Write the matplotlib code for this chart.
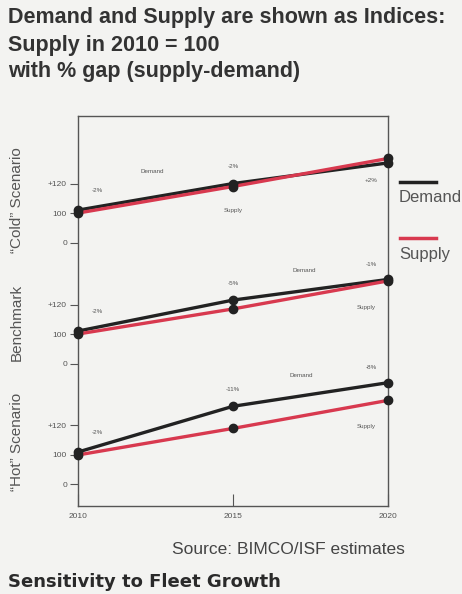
import matplotlib.pyplot as plt
from matplotlib.lines import Line2D

plt.rcParams['font.family'] = ['Liberation Sans', 'DejaVu Sans']

years = [2010, 2015, 2020]
scenarios = ['\u201cCold\u201d Scenario', 'Benchmark', '\u201cHot\u201d Scenario']

# index values, supply in 2010 = 100
demand_cold = [102, 120, 134]
supply_cold = [100, 118, 137]
demand_bench = [102, 123, 137]
supply_bench = [100, 117, 136]
demand_hot = [102, 133, 149]
supply_hot = [100, 118, 137]

gap_cold = ['-2%', '-2%', '+2%']
gap_bench = ['-2%', '-5%', '-1%']
gap_hot = ['-2%', '-11%', '-8%']

tick_values = [80, 100, 120]
tick_labels = ['0', '100', '+120']

demands = [demand_cold, demand_bench, demand_hot]
supplies = [supply_cold, supply_bench, supply_hot]
gaps = [gap_cold, gap_bench, gap_hot]
offsets = [0, -82, -164]   # vertical shift of each panel inside the box

# where the little "Demand"/"Supply" words sit in each panel (year, index)
demand_word = [(2012.4, 128), (2017.3, 143), (2017.2, 154)]
supply_word = [(2015.0, 102), (2019.3, 118), (2019.3, 119)]

BG = '#f3f3f1'
GREY = '#555555'
RED = '#d8394f'
BLACK = '#222222'

fig = plt.figure(figsize=(4.62, 5.94), dpi=100, facecolor=BG)
ax = fig.add_axes([78/462, 88/594, 310/462, 390/594])
ax.set_facecolor(BG)

for i in range(3):
    off = offsets[i]
    d = [v + off for v in demands[i]]
    s = [v + off for v in supplies[i]]
    ax.plot(years, d, color=BLACK, lw=2.4, zorder=3)
    ax.plot(years, s, color=RED, lw=2.4, zorder=3)
    ax.plot(years, d, 'o', color=BLACK, ms=6, zorder=4)
    ax.plot(years, s, 'o', color=BLACK, ms=6, zorder=4)

    # gap labels next to the demand points
    ax.annotate(gaps[i][0], (years[0], d[0]), xytext=(14, 14), textcoords='offset points',
                fontsize=4.5, color=GREY, ha='center', va='center')
    ax.annotate(gaps[i][1], (years[1], d[1]), xytext=(0, 12), textcoords='offset points',
                fontsize=4.5, color=GREY, ha='center', va='center')
    dy = -13 if i == 0 else 11
    ax.annotate(gaps[i][2], (years[2], d[2]), xytext=(-12, dy), textcoords='offset points',
                fontsize=4.5, color=GREY, ha='center', va='center')

    ax.text(demand_word[i][0], demand_word[i][1] + off, 'Demand', fontsize=4.5,
            color=GREY, ha='center', va='center')
    ax.text(supply_word[i][0], supply_word[i][1] + off, 'Supply', fontsize=4.5,
            color=GREY, ha='center', va='center')

yt = [v + off for off in offsets for v in tick_values]
ax.set_yticks(yt)
ax.set_yticklabels(tick_labels * 3, fontsize=6, color=GREY)
ax.tick_params(axis='y', length=6, width=0.8, color=GREY, pad=2)

ax.set_xticks(years)
ax.set_xticklabels([str(y) for y in years], fontsize=6, color=GREY)
ax.tick_params(axis='x', direction='in', length=9, width=0.8, color=GREY, pad=5)

ax.set_xlim(2010, 2020)
ax.set_ylim(-98.6, 165.8)
for sp in ax.spines.values():
    sp.set_color(GREY)
    sp.set_linewidth(1.0)
for ln in ax.lines:
    ln.set_clip_on(False)

# scenario names down the left side
for i, name in enumerate(scenarios):
    yc = [200, 322, 442][i]
    fig.text(17/462, 1 - yc/594, name, rotation=90, fontsize=11, color=GREY,
             ha='center', va='center')

# legend outside the box on the right
fig.add_artist(Line2D([400/462, 436/462], [1 - 182/594, 1 - 182/594],
                      color=BLACK, lw=2.5, transform=fig.transFigure))
fig.text(399/462, 1 - 197/594, 'Demand', fontsize=12, color=GREY, va='center')
fig.add_artist(Line2D([400/462, 436/462], [1 - 238/594, 1 - 238/594],
                      color=RED, lw=2.5, transform=fig.transFigure))
fig.text(399/462, 1 - 255/594, 'Supply', fontsize=12, color=GREY, va='center')

title = ['Demand and Supply are shown as Indices:',
         'Supply in 2010 = 100',
         'with % gap (supply-demand)']
for k, line in enumerate(title):
    fig.text(8/462, 1 - (18 + 27*k)/594, line, fontsize=15.5, fontweight='bold',
             color='#333333', va='center')

fig.text(172/462, 1 - 550/594, 'Source: BIMCO/ISF estimates', fontsize=12.5,
         color='#444444', va='center')
fig.text(8/462, 1 - 582/594, 'Sensitivity to Fleet Growth', fontsize=13,
         fontweight='bold', family=['DejaVu Sans'], color='#2a2a2a', va='center')

fig.savefig('out.png', dpi=100, facecolor=BG)
